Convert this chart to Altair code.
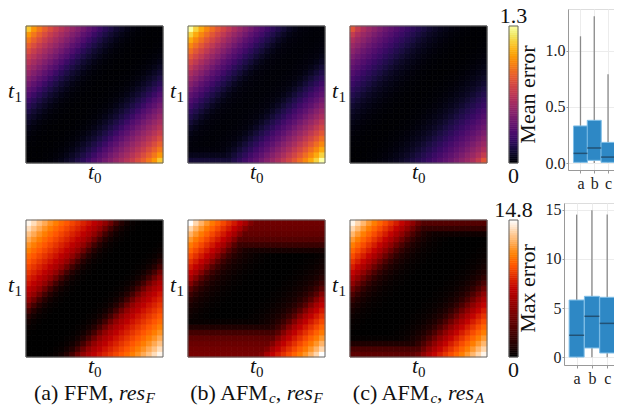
import altair as alt
import pandas as pd
import numpy as np

N = 25  # grid cells per side

# error as a function of the diagonal offset |t0 - t1| = k/N  (k = 0..24)
mean_a = [0.0, 0.0, 0.002, 0.005, 0.015, 0.03, 0.05, 0.08, 0.11, 0.15, 0.19, 0.24, 0.30,
          0.35, 0.41, 0.46, 0.52, 0.57, 0.63, 0.69, 0.76, 0.83, 0.91, 1.00, 1.13]
mean_b = [0.01, 0.012, 0.015, 0.02, 0.03, 0.05, 0.08, 0.12, 0.16, 0.20, 0.25, 0.30, 0.35,
          0.41, 0.47, 0.53, 0.59, 0.66, 0.73, 0.80, 0.88, 0.96, 1.05, 1.16, 1.30]
mean_c = [0.0, 0.0, 0.002, 0.005, 0.012, 0.02, 0.032, 0.048, 0.065, 0.085, 0.11, 0.14, 0.17,
          0.20, 0.235, 0.27, 0.31, 0.35, 0.39, 0.44, 0.49, 0.54, 0.60, 0.68, 0.79]
max_a = [0, 0, 0, 0.05, 0.15, 0.3, 0.7, 1.4, 2.6, 4.2, 5.6, 6.6, 7.3,
         7.9, 8.4, 8.9, 9.4, 9.9, 10.4, 11.0, 11.6, 12.3, 13.0, 13.8, 14.5]
max_b = [0, 0, 0, 0.05, 0.1, 0.2, 0.3, 0.5, 0.7, 1.0, 1.5, 2.3, 3.4,
         5.0, 6.4, 7.4, 8.1, 8.8, 9.5, 10.2, 10.9, 11.7, 12.6, 13.6, 14.9]
max_c = [0, 0, 0, 0.05, 0.1, 0.2, 0.3, 0.5, 0.8, 1.2, 1.9, 2.9, 4.2,
         5.5, 6.6, 7.5, 8.2, 8.9, 9.6, 10.3, 11.0, 11.8, 12.7, 13.6, 14.5]

# error floor per t1 row (row 0 = bottom), boundary effects of the AFM runs
mean_edge_a = [0] * 25
mean_edge_b = [0.12, 0.06, 0.02, 0, 0, 0, 0, 0, 0, 0, 0, 0, 0, 0, 0, 0, 0, 0, 0, 0, 0, 0, 0, 0, 0]
mean_edge_c = [0] * 25
max_edge_a = [0] * 25
max_edge_b = [4.6, 4.4, 4.1, 3.6, 2.6, 1.2, 0.3, 0, 0, 0, 0, 0, 0, 0, 0, 0, 0, 0, 0,
              0.8, 2.2, 3.2, 3.8, 4.1, 4.3]
max_edge_c = [3.6, 2.8, 1.2, 0.2, 0, 0, 0, 0, 0, 0, 0, 0, 0, 0, 0, 0, 0, 0, 0, 0, 0, 0,
              0.6, 2.0, 3.2]

cb_max = [1.3, 14.8]
cb_titles = ["Mean error", "Max error"]

# box plot statistics (a, b, c)
cats = ["a", "b", "c"]
mean_lo = [0.0, 0.0, 0.0]
mean_q1 = [0.006, 0.024, 0.006]
mean_med = [0.086, 0.134, 0.053]
mean_q3 = [0.33, 0.38, 0.184]
mean_hi = [1.128, 1.306, 0.79]
max_lo = [0.0, 0.0, 0.0]
max_q1 = [0.03, 0.95, 0.44]
max_med = [2.24, 4.17, 3.45]
max_q3 = [5.82, 6.2, 6.1]
max_hi = [14.5, 14.94, 14.5]

FONT = "Liberation Serif, Times New Roman, Times, DejaVu Serif, serif"
W = 137      # heat map side
HH = 161     # view height of every panel in a row
TOP = 17     # heat map top inside its view
CBW = 9      # colour bar width
GAP = 21     # spacing between views of a row

inferno = alt.Scale(scheme="inferno", domain=[0, cb_max[0]])
gh_stops = [0, 0.5, 0.6667, 0.75, 1.0]
gist_heat = alt.Scale(domain=[s * cb_max[1] for s in gh_stops],
                      range=["#000000", "#bf0000", "#ff5500", "#ff8000", "#ffffff"],
                      interpolate="rgb")


def txt(s, x, y, size=22, italic=False, align="left", angle=0, baseline="alphabetic"):
    kw = dict(fontSize=size, align=align, baseline=baseline, font=FONT, color="#111")
    if italic:
        kw["fontStyle"] = "italic"
    if angle:
        kw["angle"] = angle
    return alt.Chart(pd.DataFrame({"s": [s]})).mark_text(**kw).encode(
        text="s:N", x=alt.value(x), y=alt.value(y))


REG = {"(": 333, ")": 333, "a": 444, "b": 500, "c": 444, " ": 250, "F": 556, "M": 889,
       "A": 722, ",": 250}
ITA = {"r": 389, "e": 444, "s": 389, "F": 611, "c": 444, "A": 611}


def caption(pieces, y):
    widths = []
    for t, st, sub in pieces:
        table = ITA if st == "i" else REG
        size = 15 if sub else 22
        widths.append(sum(table[ch] for ch in t) * size / 1000)
    x = W / 2 - sum(widths) / 2
    out = []
    for (t, st, sub), w in zip(pieces, widths):
        if t.strip():
            out.append(txt(t, x, y + (3 if sub else 0), size=15 if sub else 22, italic=(st == "i")))
        x += w
    return out


def grid(fd, edge):
    rows = []
    for i in range(N):
        for j in range(N):
            rows.append(dict(x0=i / N, x1=(i + 1) / N, y0=j / N, y1=(j + 1) / N,
                             v=max(fd[abs(i - j)], edge[j])))
    return pd.DataFrame(rows)


def heat(fd, edge, scale, vw, cap=None):
    sx = alt.Scale(domain=[0, vw / W], nice=False, zero=False)
    sy = alt.Scale(domain=[-(HH - TOP - W) / W, 1 + TOP / W], nice=False, zero=False)
    rect = alt.Chart(grid(fd, edge)).mark_rect(strokeWidth=0.8).encode(
        x=alt.X("x0:Q", scale=sx, axis=None), x2="x1:Q",
        y=alt.Y("y0:Q", scale=sy, axis=None), y2="y1:Q",
        color=alt.Color("v:Q", scale=scale, legend=None),
        stroke=alt.Stroke("v:Q", scale=scale, legend=None))
    frame = alt.Chart(pd.DataFrame({"x0": [0], "x1": [1], "y0": [0], "y1": [1]})).mark_rect(
        filled=False, stroke="#666", strokeWidth=1).encode(
        x=alt.X("x0:Q", scale=sx, axis=None), x2="x1:Q",
        y=alt.Y("y0:Q", scale=sy, axis=None), y2="y1:Q")
    layers = [rect, frame,
              txt("t", W / 2 - 6.5, TOP + W + 16, italic=True),
              txt("0", W / 2 - 0.5, TOP + W + 20, size=15),
              txt("t", -18, TOP + 72, italic=True), txt("1", -11.5, TOP + 76, size=15)]
    if cap:
        layers += caption(cap, TOP + W + 43)
    return alt.layer(*layers).properties(
        width=vw, height=HH, view=alt.ViewBackground(stroke=None))


def cbar(vmax, scale, title, vw):
    e = np.linspace(0, vmax, 65)
    df = pd.DataFrame({"v0": e[:-1], "v1": e[1:], "m": (e[:-1] + e[1:]) / 2})
    sy = alt.Scale(domain=[-vmax * (HH - TOP - W) / W, vmax * (1 + TOP / W)], nice=False, zero=False)
    rect = alt.Chart(df).mark_rect(strokeWidth=0.6).encode(
        x=alt.value(0), x2=alt.value(CBW),
        y=alt.Y("v0:Q", scale=sy, axis=None), y2="v1:Q",
        color=alt.Color("m:Q", scale=scale, legend=None),
        stroke=alt.Stroke("m:Q", scale=scale, legend=None))
    frame = alt.Chart(pd.DataFrame({"y0": [0], "y1": [vmax]})).mark_rect(
        filled=False, stroke="#666", strokeWidth=1).encode(
        x=alt.value(0), x2=alt.value(CBW), y=alt.Y("y0:Q", scale=sy, axis=None), y2="y1:Q")
    return alt.layer(
        rect, frame,
        txt(f"{vmax:g}", CBW / 2, TOP - 3, align="center"),
        txt("0", CBW / 2, TOP + W + 20, align="center"),
        txt(title, CBW + 10, TOP + W / 2, align="center", angle=270, baseline="middle"),
    ).properties(width=vw, height=HH, view=alt.ViewBackground(stroke=None))


def boxplot(lo, q1, med, q3, hi, ydom, yvals, yfmt, xdom, width, height, bw):
    df = pd.DataFrame({"idx": list(range(1, len(cats) + 1)), "lo": lo, "q1": q1,
                       "med": med, "q3": q3, "hi": hi})
    lab = "[''," + ",".join(f"'{c}'" for c in cats) + "][datum.value]"
    xs = alt.Scale(domain=xdom, nice=False, zero=False)
    ys = alt.Scale(domain=ydom, nice=False, zero=False)
    xax = alt.Axis(values=list(range(1, len(cats) + 1)), labelExpr=lab, title=None, grid=True,
                   gridColor="#ececec", domainColor="#999", tickColor="#999", tickSize=3,
                   labelPadding=2, labelFontSize=16, labelFont=FONT, labelColor="#222")
    yax = alt.Axis(values=yvals, format=yfmt, title=None, grid=True, gridColor="#ececec",
                   domainColor="#999", tickColor="#999", tickSize=2, labelPadding=1,
                   labelFontSize=16, labelFont=FONT, labelColor="#222")
    X = alt.X("idx:Q", scale=xs, axis=xax)
    base = alt.Chart(df)
    whisk = base.mark_rule(color="#8a8a8a", strokeWidth=1.3, clip=True).encode(
        x=X, y=alt.Y("lo:Q", scale=ys, axis=yax), y2="hi:Q")
    box = base.mark_bar(size=bw, color="#2e88c5", stroke="#7fbde6", strokeWidth=1,
                        clip=True).encode(
        x=X, y=alt.Y("q1:Q", scale=ys, axis=yax), y2="q3:Q")
    mid = base.mark_tick(size=bw, thickness=1.5, color="#1c3a52", orient="horizontal",
                         clip=True).encode(x=X, y=alt.Y("med:Q", scale=ys, axis=yax))
    return alt.layer(whisk, box, mid).properties(
        width=width, height=height, view=alt.ViewBackground(stroke="#dddddd", strokeWidth=1))


cap_a = [("(a) FFM,", "n", 0), (" ", "n", 0), ("res", "i", 0), ("F", "i", 1)]
cap_b = [("(b) AFM", "n", 0), ("c", "i", 1), (",", "n", 0), (" ", "n", 0), ("res", "i", 0), ("F", "i", 1)]
cap_c = [("(c) AFM", "n", 0), ("c", "i", 1), (",", "n", 0), (" ", "n", 0), ("res", "i", 0), ("A", "i", 1)]

row1 = alt.hconcat(
    heat(mean_a, mean_edge_a, inferno, W + 4),
    heat(mean_b, mean_edge_b, inferno, W + 4),
    heat(mean_c, mean_edge_c, inferno, W + 1),
    cbar(cb_max[0], inferno, cb_titles[0], CBW + 29),
    boxplot(mean_lo, mean_q1, mean_med, mean_q3, mean_hi, [-0.062, 1.371], [0, 0.5, 1.0],
            ".1f", [0.457, 3.143], 47, 161, 14),
    spacing=GAP, bounds="flush")
row2 = alt.hconcat(
    heat(max_a, max_edge_a, gist_heat, W + 4, cap_a),
    heat(max_b, max_edge_b, gist_heat, W + 4, cap_b),
    heat(max_c, max_edge_c, gist_heat, W + 1, cap_c),
    cbar(cb_max[1], gist_heat, cb_titles[1], CBW + 25),
    boxplot(max_lo, max_q1, max_med, max_q3, max_hi, [-0.78, 15.68], [0, 5, 10, 15],
            "d", [0.5, 3.184], 51, 162, 15),
    spacing=GAP, bounds="flush")

chart = alt.vconcat(row1, row2, spacing=7).resolve_scale(
    color="independent", stroke="independent").properties(
    padding={"left": 0, "top": -3, "right": -2, "bottom": 0}).configure(
    background="white").configure_text(font=FONT)

chart.save("out.html", embed_options={"renderer": "svg", "actions": False})
